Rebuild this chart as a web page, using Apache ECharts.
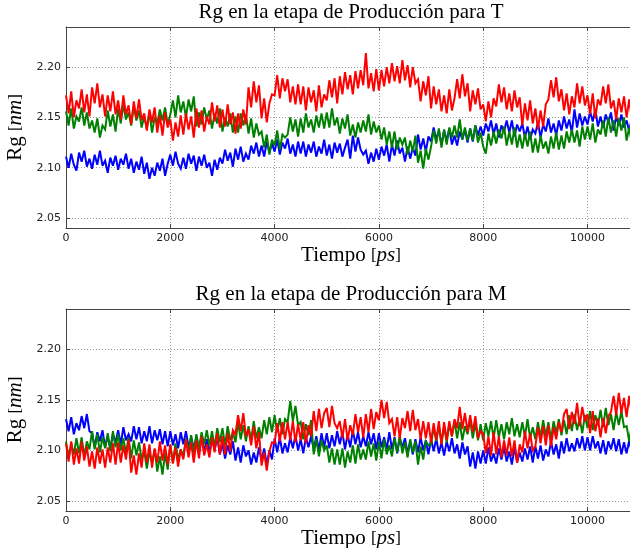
<!DOCTYPE html>
<html>
<head>
<meta charset="utf-8">
<script src="https://cdn.jsdelivr.net/npm/echarts@6/dist/echarts.min.js"></script>
<style>
html, body { margin: 0; padding: 0; background: #fff; }
#chart { width: 630px; height: 548px; }
</style>
</head>
<body>
<div id="chart"></div>
<script>
// muestras cada 50 ps
const paso = 50
const ticksY = [2.05, 2.10, 2.15, 2.20]
const titulos = ['Rg en la etapa de Producción para T', 'Rg en la etapa de Producción para M']

// etapa T
const tAzul = [
  2.111,2.100,2.114,2.103,2.097,2.115,2.106,2.117,2.101,2.109,2.099,2.113,2.103,2.117,2.102,2.107,2.095,2.110,2.102,2.112,
  2.098,2.109,2.103,2.114,2.099,2.109,2.095,2.106,2.098,2.111,2.094,2.105,2.089,2.100,2.092,2.105,2.097,2.109,2.092,2.104,
  2.113,2.102,2.116,2.104,2.099,2.110,2.099,2.114,2.104,2.112,2.097,2.111,2.102,2.113,2.100,2.105,2.092,2.108,2.098,2.110,
  2.104,2.118,2.107,2.115,2.101,2.119,2.108,2.121,2.106,2.114,2.108,2.122,2.114,2.125,2.111,2.122,2.111,2.126,2.115,2.124,
  2.116,2.128,2.113,2.125,2.119,2.129,2.114,2.123,2.111,2.126,2.114,2.126,2.111,2.123,2.115,2.126,2.111,2.121,2.114,2.128,
  2.112,2.123,2.109,2.125,2.115,2.124,2.111,2.120,2.128,2.109,2.132,2.116,2.130,2.118,2.113,2.117,2.104,2.115,2.106,2.119,
  2.108,2.121,2.112,2.123,2.106,2.123,2.112,2.127,2.114,2.120,2.106,2.121,2.109,2.120,2.112,2.133,2.118,2.129,2.116,2.131,
  2.126,2.140,2.128,2.137,2.123,2.137,2.127,2.139,2.123,2.132,2.122,2.136,2.128,2.138,2.125,2.139,2.126,2.142,2.132,2.141,
  2.132,2.144,2.136,2.147,2.133,2.144,2.130,2.142,2.136,2.147,2.135,2.147,2.131,2.143,2.136,2.144,2.130,2.141,2.128,2.138,
  2.134,2.145,2.130,2.143,2.136,2.149,2.135,2.144,2.132,2.147,2.137,2.151,2.139,2.148,2.135,2.158,2.140,2.154,2.142,2.151,
  2.143,2.156,2.146,2.158,2.141,2.151,2.140,2.153,2.145,2.155,2.137,2.151,2.142,2.153,2.140,2.147,2.136,2.150,2.139,2.148
]
const tVerde = [
  2.156,2.142,2.159,2.139,2.151,2.146,2.160,2.142,2.155,2.139,2.147,2.135,2.149,2.130,2.142,2.138,2.157,2.141,2.153,2.136,
  2.159,2.144,2.163,2.148,2.155,2.142,2.161,2.147,2.157,2.140,2.151,2.139,2.155,2.135,2.150,2.144,2.158,2.147,2.160,2.143,
  2.153,2.167,2.150,2.172,2.155,2.166,2.150,2.168,2.156,2.171,2.141,2.155,2.143,2.160,2.148,2.157,2.139,2.154,2.144,2.159,
  2.136,2.150,2.141,2.154,2.135,2.151,2.135,2.154,2.142,2.153,2.134,2.149,2.130,2.144,2.133,2.136,2.120,2.133,2.113,2.128,
  2.122,2.137,2.118,2.133,2.130,2.133,2.150,2.136,2.148,2.131,2.149,2.135,2.154,2.140,2.148,2.135,2.152,2.140,2.154,2.139,
  2.155,2.140,2.159,2.142,2.150,2.134,2.149,2.139,2.153,2.132,2.143,2.130,2.145,2.135,2.147,2.136,2.153,2.133,2.146,2.135,
  2.142,2.128,2.140,2.123,2.136,2.120,2.136,2.118,2.130,2.123,2.130,2.113,2.127,2.116,2.132,2.105,2.117,2.099,2.119,2.108,
  2.121,2.137,2.124,2.139,2.120,2.138,2.123,2.140,2.130,2.142,2.130,2.148,2.128,2.140,2.127,2.139,2.127,2.142,2.125,2.135,
  2.121,2.114,2.134,2.122,2.136,2.124,2.138,2.129,2.141,2.122,2.136,2.123,2.140,2.120,2.133,2.119,2.134,2.121,2.136,2.115,
  2.129,2.115,2.132,2.119,2.126,2.114,2.131,2.119,2.135,2.118,2.132,2.119,2.136,2.125,2.138,2.125,2.137,2.121,2.141,2.128,
  2.141,2.128,2.144,2.125,2.138,2.133,2.147,2.131,2.150,2.135,2.147,2.131,2.149,2.137,2.150,2.127,2.140,2.124,2.142,2.130
]
const tRojo = [
  2.172,2.154,2.176,2.150,2.167,2.159,2.178,2.155,2.173,2.151,2.180,2.164,2.184,2.160,2.173,2.151,2.172,2.156,2.176,2.153,
  2.167,2.148,2.172,2.153,2.162,2.143,2.166,2.149,2.168,2.147,2.154,2.137,2.158,2.145,2.160,2.135,2.152,2.132,2.155,2.140,
  2.148,2.127,2.145,2.131,2.152,2.133,2.154,2.138,2.151,2.130,2.159,2.140,2.157,2.136,2.151,2.143,2.165,2.146,2.162,2.140,
  2.158,2.141,2.163,2.143,2.155,2.134,2.154,2.139,2.158,2.143,2.180,2.160,2.186,2.165,2.182,2.149,2.169,2.145,2.164,2.173,
  2.172,2.192,2.169,2.189,2.176,2.188,2.165,2.181,2.163,2.183,2.163,2.181,2.157,2.180,2.165,2.177,2.156,2.182,2.160,2.173,
  2.167,2.187,2.170,2.189,2.164,2.191,2.173,2.195,2.178,2.192,2.173,2.196,2.179,2.197,2.182,2.214,2.179,2.194,2.176,2.198,
  2.177,2.197,2.181,2.200,2.184,2.204,2.186,2.201,2.184,2.207,2.187,2.202,2.180,2.200,2.184,2.188,2.166,2.186,2.172,2.191,
  2.159,2.181,2.163,2.178,2.156,2.172,2.154,2.178,2.157,2.169,2.188,2.169,2.193,2.171,2.184,2.156,2.177,2.163,2.179,2.158,
  2.163,2.146,2.166,2.150,2.169,2.161,2.183,2.165,2.180,2.158,2.174,2.156,2.177,2.160,2.170,2.142,2.164,2.147,2.167,2.144,
  2.159,2.138,2.157,2.141,2.163,2.168,2.187,2.170,2.190,2.166,2.178,2.157,2.174,2.153,2.171,2.160,2.184,2.164,2.181,2.162,
  2.172,2.153,2.174,2.149,2.168,2.162,2.181,2.164,2.183,2.159,2.167,2.148,2.169,2.155,2.171,2.150,2.168,2.148,2.172,2.153
]

// etapa M
const mAzul = [
  2.131,2.119,2.133,2.116,2.127,2.120,2.134,2.122,2.136,2.119,2.117,2.103,2.118,2.109,2.120,2.103,2.114,2.102,2.116,2.108,
  2.120,2.106,2.123,2.110,2.116,2.109,2.124,2.111,2.123,2.107,2.119,2.109,2.124,2.107,2.120,2.110,2.121,2.106,2.119,2.104,
  2.119,2.105,2.116,2.102,2.118,2.106,2.119,2.103,2.113,2.102,2.113,2.102,2.115,2.098,2.111,2.098,2.111,2.101,2.113,2.096,
  2.107,2.092,2.105,2.096,2.109,2.090,2.103,2.088,2.105,2.094,2.100,2.086,2.098,2.088,2.103,2.090,2.102,2.086,2.100,2.091,
  2.112,2.098,2.113,2.097,2.107,2.098,2.113,2.102,2.115,2.100,2.111,2.097,2.113,2.103,2.114,2.101,2.114,2.100,2.117,2.103,
  2.117,2.102,2.115,2.104,2.119,2.106,2.118,2.101,2.116,2.103,2.120,2.106,2.118,2.103,2.114,2.104,2.118,2.106,2.117,2.101,
  2.117,2.103,2.113,2.101,2.118,2.101,2.113,2.097,2.112,2.103,2.112,2.097,2.109,2.096,2.111,2.098,2.113,2.100,2.110,2.096,
  2.111,2.099,2.112,2.097,2.108,2.095,2.109,2.099,2.112,2.097,2.106,2.092,2.108,2.096,2.104,2.084,2.098,2.082,2.099,2.087,
  2.100,2.087,2.103,2.089,2.097,2.087,2.102,2.091,2.103,2.089,2.099,2.086,2.103,2.088,2.098,2.089,2.102,2.091,2.104,2.088,
  2.104,2.092,2.105,2.090,2.101,2.094,2.109,2.096,2.106,2.092,2.109,2.097,2.112,2.099,2.107,2.099,2.112,2.102,2.114,2.100,
  2.113,2.100,2.114,2.102,2.109,2.097,2.110,2.096,2.109,2.101,2.112,2.099,2.111,2.096,2.108,2.097,2.110,2.098,2.111,2.096
]
const mVerde = [
  2.109,2.092,2.107,2.096,2.112,2.097,2.113,2.094,2.109,2.101,2.119,2.101,2.116,2.098,2.113,2.102,2.117,2.099,2.119,2.103,
  2.116,2.100,2.112,2.097,2.113,2.092,2.110,2.095,2.108,2.091,2.099,2.082,2.098,2.088,2.101,2.079,2.094,2.076,2.097,2.081,
  2.105,2.088,2.107,2.091,2.101,2.094,2.112,2.099,2.115,2.097,2.116,2.101,2.118,2.106,2.120,2.105,2.119,2.103,2.122,2.108,
  2.122,2.105,2.124,2.110,2.118,2.108,2.128,2.111,2.125,2.109,2.124,2.110,2.129,2.112,2.123,2.112,2.130,2.116,2.133,2.118,
  2.135,2.118,2.132,2.116,2.131,2.128,2.149,2.129,2.144,2.125,2.128,2.111,2.126,2.115,2.130,2.096,2.111,2.094,2.110,2.100,
  2.105,2.088,2.102,2.086,2.101,2.086,2.102,2.083,2.099,2.088,2.105,2.087,2.106,2.091,2.101,2.091,2.109,2.094,2.107,2.090,
  2.109,2.092,2.111,2.096,2.105,2.094,2.112,2.098,2.115,2.097,2.108,2.093,2.111,2.098,2.109,2.086,2.104,2.091,2.109,2.105,
  2.106,2.123,2.109,2.124,2.107,2.124,2.108,2.126,2.114,2.129,2.112,2.128,2.110,2.124,2.116,2.130,2.112,2.127,2.110,2.126,
  2.110,2.127,2.114,2.129,2.112,2.130,2.113,2.126,2.111,2.128,2.116,2.132,2.114,2.126,2.113,2.128,2.114,2.131,2.112,2.123,
  2.111,2.128,2.113,2.130,2.114,2.128,2.111,2.129,2.117,2.131,2.115,2.130,2.116,2.135,2.119,2.136,2.120,2.132,2.117,2.135,
  2.122,2.139,2.120,2.135,2.125,2.140,2.123,2.142,2.125,2.136,2.120,2.138,2.125,2.139,2.123,2.124,2.109,2.125,2.110,2.128
]
const mRojo = [
  2.107,2.089,2.109,2.086,2.102,2.087,2.109,2.090,2.104,2.084,2.099,2.082,2.103,2.087,2.101,2.083,2.103,2.088,2.107,2.086,
  2.108,2.088,2.105,2.091,2.111,2.078,2.095,2.076,2.097,2.083,2.107,2.088,2.106,2.083,2.102,2.088,2.109,2.090,2.105,2.086,
  2.106,2.087,2.103,2.084,2.101,2.091,2.111,2.093,2.108,2.088,2.110,2.092,2.114,2.095,2.106,2.093,2.113,2.098,2.117,2.096,
  2.114,2.096,2.117,2.099,2.120,2.116,2.135,2.119,2.137,2.114,2.121,2.105,2.124,2.102,2.118,2.085,2.098,2.080,2.099,2.108,
  2.107,2.127,2.109,2.128,2.111,2.128,2.110,2.129,2.108,2.126,2.110,2.128,2.107,2.125,2.114,2.139,2.119,2.141,2.122,2.137,
  2.142,2.123,2.144,2.127,2.122,2.129,2.112,2.131,2.110,2.125,2.115,2.136,2.118,2.133,2.113,2.136,2.118,2.141,2.121,2.138,
  2.130,2.150,2.132,2.148,2.127,2.131,2.114,2.133,2.112,2.132,2.122,2.139,2.119,2.140,2.120,2.131,2.111,2.129,2.112,2.128,
  2.108,2.127,2.110,2.129,2.106,2.128,2.110,2.129,2.114,2.131,2.122,2.143,2.121,2.137,2.118,2.135,2.118,2.134,2.112,2.119,
  2.116,2.097,2.114,2.095,2.118,2.096,2.114,2.093,2.110,2.095,2.113,2.094,2.110,2.088,2.106,2.098,2.119,2.102,2.117,2.100,
  2.104,2.123,2.107,2.124,2.105,2.125,2.104,2.123,2.111,2.128,2.118,2.136,2.141,2.121,2.138,2.126,2.147,2.124,2.143,2.129,
  2.136,2.117,2.139,2.119,2.132,2.113,2.132,2.117,2.134,2.138,2.154,2.135,2.157,2.137,2.152,2.133,2.154,2.135,2.157,2.137
]

const serif = "'Liberation Serif', 'DejaVu Serif', serif"
const sans = "'DejaVu Sans', sans-serif"

const conTiempo = vals => vals.map((v, i) => [i * paso, v])

const chart = echarts.init(document.getElementById('chart'))

const grids = [
  { left: 66, top: 27, right: -6, height: 201, outerBoundsMode: 'none', containLabel: false },
  { left: 66, top: 309, right: -6, height: 202, outerBoundsMode: 'none', containLabel: false }
]

let xAxis = []
let yAxis = []
let series = []
grids.forEach((g, k) => {
  // eje inferior
  xAxis.push({
    type: 'value', gridIndex: k, min: 0, max: 10930, interval: 2000,
    name: 'Tiempo {b|[}{i|ps}{b|]}', nameLocation: 'middle', nameGap: 14,
    nameTextStyle: {
      fontFamily: serif, fontSize: 21, color: '#000',
      rich: {
        i: { fontFamily: serif, fontSize: 21, fontStyle: 'italic', color: '#000' },
        b: { fontFamily: serif, fontSize: 17, color: '#000' }
      }
    },
    axisLine: { show: true, lineStyle: { color: '#444', width: 1 } },
    axisTick: { show: true, inside: true, length: 4, lineStyle: { color: '#444' } },
    axisLabel: {
      fontFamily: sans, fontSize: 11, color: '#222', margin: 5, showMaxLabel: false,
      formatter: v => String(v)
    },
    splitLine: { show: true, lineStyle: { color: '#999', type: [1, 2], width: 1 } }
  })
  // eje superior (titulo)
  xAxis.push({
    type: 'value', gridIndex: k, position: 'top', min: 0, max: 10930, interval: 2000,
    name: titulos[k], nameLocation: 'middle', nameGap: 4,
    nameTextStyle: { fontFamily: serif, fontSize: 21, color: '#000' },
    axisLine: { show: true, lineStyle: { color: '#444', width: 1 } },
    axisTick: { show: true, inside: true, length: 4, lineStyle: { color: '#444' } },
    axisLabel: { show: false },
    splitLine: { show: false }
  })
  yAxis.push({
    type: 'value', gridIndex: k, min: 2.04, max: 2.24,
    name: 'Rg {b|[}{i|nm}{b|]}', nameLocation: 'middle', nameGap: 40, nameRotate: 90,
    nameTextStyle: {
      fontFamily: serif, fontSize: 21, color: '#000',
      rich: {
        i: { fontFamily: serif, fontSize: 21, fontStyle: 'italic', color: '#000' },
        b: { fontFamily: serif, fontSize: 17, color: '#000' }
      }
    },
    axisLine: { show: true, lineStyle: { color: '#444', width: 1 } },
    axisTick: { show: true, inside: true, length: 4, customValues: ticksY, lineStyle: { color: '#444' } },
    axisLabel: {
      fontFamily: sans, fontSize: 11, color: '#222', margin: 5, customValues: ticksY,
      formatter: v => v.toFixed(2)
    },
    splitLine: { show: true, lineStyle: { color: '#999', type: [1, 2], width: 1 } }
  })
})

const datos = [[tAzul, tVerde, tRojo], [mAzul, mVerde, mRojo]]
const colores = ['#0000ff', '#008000', '#ff0000']
datos.forEach((grupo, k) => {
  grupo.forEach((vals, j) => {
    series.push({
      type: 'line', xAxisIndex: k * 2, yAxisIndex: k,
      data: conTiempo(vals), showSymbol: false, clip: true,
      lineStyle: { color: colores[j], width: 2, join: 'miter', miterLimit: 3 },
      itemStyle: { color: colores[j] }
    })
  })
})

chart.setOption({
  animation: false,
  grid: grids,
  xAxis: xAxis,
  yAxis: yAxis,
  series: series
})
</script>
</body>
</html>
